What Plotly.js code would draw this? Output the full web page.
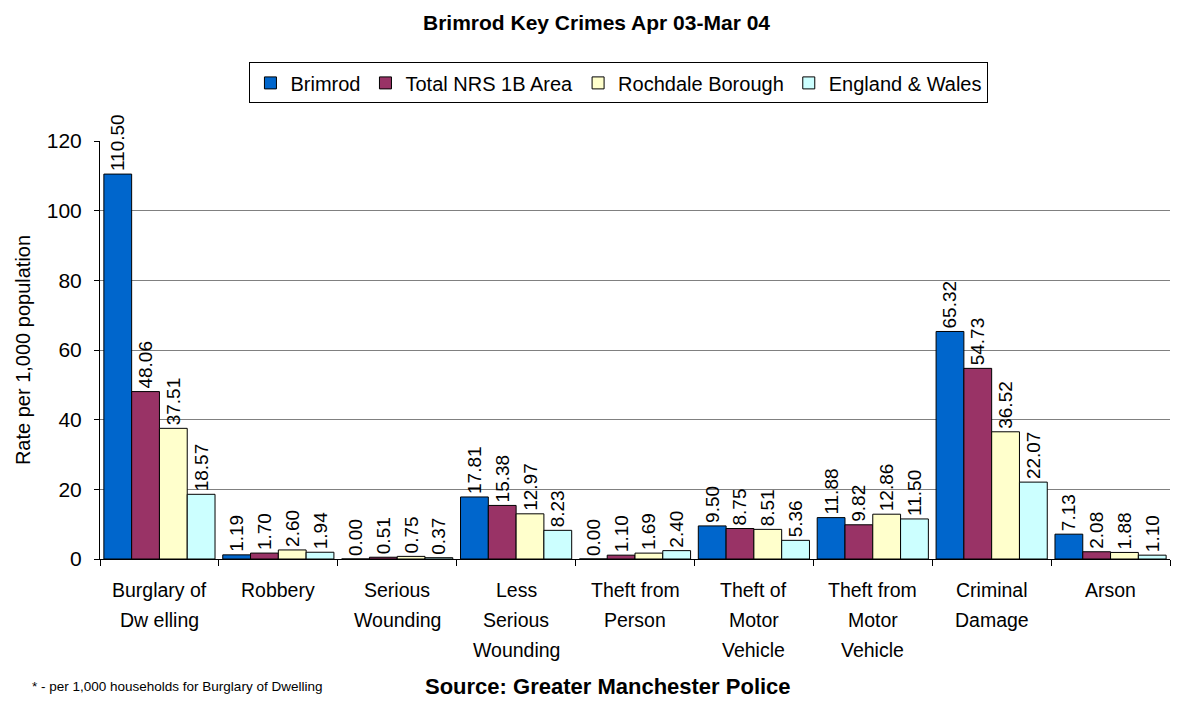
<!DOCTYPE html>
<html>
<head>
<meta charset="utf-8">
<script src="https://cdn.plot.ly/plotly-3.0.1.min.js"></script>
<style>html,body{margin:0;padding:0;background:#fff;}#chart{width:1193px;height:702px;}</style>
</head>
<body>
<div id="chart"></div>
<script>
const categories = ["Burglary of<br>Dw elling", "Robbery", "Serious<br>Wounding", "Less<br>Serious<br>Wounding", "Theft from<br>Person", "Theft of<br>Motor<br>Vehicle", "Theft from<br>Motor<br>Vehicle", "Criminal<br>Damage", "Arson"];
const seriesNames = ["Brimrod", "Total NRS 1B Area", "Rochdale Borough", "England & Wales"];
const brimrod = [110.50, 1.19, 0.00, 17.81, 0.00, 9.50, 11.88, 65.32, 7.13];
const nrs1b = [48.06, 1.70, 0.51, 15.38, 1.10, 8.75, 9.82, 54.73, 2.08];
const rochdale = [37.51, 2.60, 0.75, 12.97, 1.69, 8.51, 12.86, 36.52, 1.88];
const englandWales = [18.57, 1.94, 0.37, 8.23, 2.40, 5.36, 11.50, 22.07, 1.10];
const colors = ["#0066CC", "#993366", "#FFFFCC", "#CCFFFF"];
const allSeries = [brimrod, nrs1b, rochdale, englandWales];

const font = "Liberation Sans, Arial, sans-serif";
const traces = allSeries.map((vals, i) => ({
  type: "bar",
  name: seriesNames[i],
  x: categories,
  y: vals,
  marker: {color: colors[i], line: {color: "#000", width: 1}},
  texttemplate: "%{y:.2f}",
  textposition: "outside",
  textangle: -90,
  constraintext: "none",
  cliponaxis: false,
  textfont: {family: font, size: 19, color: "#000"},
  hoverinfo: "x+y+name"
}));

// Category labels drawn line by line (wider line spacing as in the reference)
const catAnnotations = [];
categories.forEach((cat) => {
  cat.split("<br>").forEach((line, j) => {
    catAnnotations.push({
      text: line, xref: "x", yref: "paper", x: cat, y: -(31 + 30 * j) / 418,
      xanchor: "center", yanchor: "middle", showarrow: false,
      font: {family: font, size: 19.5, color: "#000"}
    });
  });
});

const layout = {
  width: 1193, height: 702,
  margin: {l: 100, r: 23, t: 141, b: 143},
  paper_bgcolor: "#fff", plot_bgcolor: "#fff",
  font: {family: font, color: "#000"},
  barmode: "group",
  bargap: 0.065,
  bargroupgap: 0,
  title: {text: "<b>Brimrod Key Crimes Apr 03-Mar 04</b>", font: {family: font, size: 21, color: "#000"}, x: 0.5, xref: "container", y: 0.968, yref: "container", yanchor: "middle"},
  legend: {orientation: "h", x: 0.485, xanchor: "center", y: 1.139, yanchor: "middle", bordercolor: "#000", borderwidth: 1, font: {family: font, size: 20}, itemwidth: 30, traceorder: "normal"},
  xaxis: {
    type: "category",
    showline: true, linecolor: "#000", linewidth: 1,
    ticks: "outside", tickson: "boundaries", ticklen: 6, tickcolor: "#000",
    showticklabels: false,
    showgrid: false
  },
  yaxis: {
    range: [0, 120], dtick: 20,
    showline: true, linecolor: "#000", linewidth: 1,
    ticks: "outside", ticklen: 5, tickcolor: "#000",
    ticklabelstandoff: 8,
    tickfont: {family: font, size: 21, color: "#000"},
    showgrid: true, gridcolor: "#808080", gridwidth: 1,
    zeroline: false,
    title: {text: "Rate per 1,000 population", font: {family: font, size: 20, color: "#000"}, standoff: 10}
  },
  annotations: catAnnotations.concat([
    {text: "* - per 1,000 households for Burglary of Dwelling", xref: "paper", yref: "paper", x: -0.065, y: -0.304, xanchor: "left", yanchor: "middle", showarrow: false, font: {family: font, size: 13.5, color: "#000"}},
    {text: "<b>Source: Greater Manchester Police</b>", xref: "paper", yref: "paper", x: 0.475, y: -0.304, xanchor: "center", yanchor: "middle", showarrow: false, font: {family: font, size: 22, color: "#000"}}
  ]),
  showlegend: true
};

Plotly.newPlot("chart", traces, layout, {displayModeBar: false, staticPlot: true});
</script>
</body>
</html>
